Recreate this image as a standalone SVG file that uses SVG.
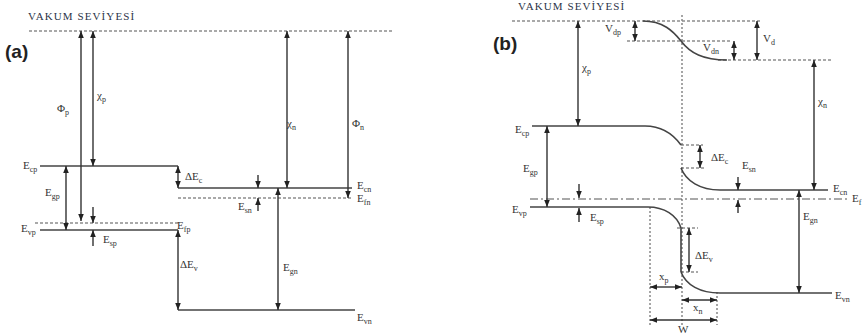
<svg xmlns="http://www.w3.org/2000/svg" width="868" height="336" viewBox="0 0 868 336">
<defs>
<marker id="ah" viewBox="0 0 10 10" refX="10" refY="5" markerWidth="7" markerHeight="7" markerUnits="userSpaceOnUse" orient="auto-start-reverse"><path d="M0,1 L10,5 L0,9 z" fill="#222"/></marker>
</defs>
<style>
.lv{stroke:#444;stroke-width:1.6;fill:none}
.dl{stroke:#555;stroke-width:1.2;stroke-dasharray:3,2;fill:none}
.dot{stroke:#888;stroke-width:1.5;stroke-dasharray:2,2;fill:none}
.dd{stroke:#555;stroke-width:1.2;stroke-dasharray:8,3,2,3;fill:none}
.ar{stroke:#333;stroke-width:1.4;fill:none}
.a2{marker-start:url(#ah);marker-end:url(#ah)}
.a1{marker-end:url(#ah)}
text{font-family:"Liberation Serif","Times New Roman",serif;font-size:11px;fill:#333}
.s{font-size:8px}
.t{font-size:11px;letter-spacing:1.1px;fill:#2c3448}
.p{font-family:"Liberation Sans",Arial,sans-serif;font-weight:bold;font-size:19px;fill:#222}
</style>
<rect width="868" height="336" fill="#fff"/>

<g id="panel-a">
<text class="p" x="5" y="58">(a)</text>
<text class="t" x="28" y="20">VAKUM SEVİYESİ</text>
<g id="levels-a">
<path class="dl" d="M29,31 H392"/>
<path class="lv" d="M40,166 H178"/>
<path class="dl" d="M35,223 H178"/>
<path class="lv" d="M40,230 H178"/>
<path class="lv" d="M178,188 H352"/>
<path class="dl" d="M178,198 H352"/>
<path class="lv" d="M178,310 H355"/>
</g>
<g id="connectors-a">
<path class="ar a2" d="M81,31 V221"/>
<path class="ar a2" d="M93,31 V166"/>
<path class="ar a2" d="M66,166 V230"/>
<path class="ar a1" d="M93,207 V223"/>
<path class="ar a1" d="M93,246 V230"/>
<path class="ar a2" d="M178,166 V188"/>
<path class="ar a1" d="M258,175 V188"/>
<path class="ar a1" d="M258,211 V198"/>
<path class="ar a2" d="M287,31 V188"/>
<path class="ar a2" d="M348,31 V198"/>
<path class="ar a2" d="M278,188 V310"/>
<path class="ar a2" d="M178,230 V310"/>
</g>
<g id="labels-a">
<text x="57" y="112">Φ<tspan class="s" dy="3">p</tspan></text>
<text x="97" y="99">χ<tspan class="s" dy="3">p</tspan></text>
<text x="23" y="169">E<tspan class="s" dy="3">cp</tspan></text>
<text x="45" y="196">E<tspan class="s" dy="3">gp</tspan></text>
<text x="21" y="232">E<tspan class="s" dy="3">vp</tspan></text>
<text x="177" y="229">E<tspan class="s" dy="3">fp</tspan></text>
<text x="103" y="243">E<tspan class="s" dy="3">sp</tspan></text>
<text x="185" y="180">ΔE<tspan class="s" dy="3">c</tspan></text>
<text x="180" y="268">ΔE<tspan class="s" dy="3">v</tspan></text>
<text x="287" y="127">χ<tspan class="s" dy="3">n</tspan></text>
<text x="352" y="127">Φ<tspan class="s" dy="3">n</tspan></text>
<text x="357" y="189">E<tspan class="s" dy="3">cn</tspan></text>
<text x="357" y="202">E<tspan class="s" dy="3">fn</tspan></text>
<text x="238" y="210">E<tspan class="s" dy="3">sn</tspan></text>
<text x="283" y="271">E<tspan class="s" dy="3">gn</tspan></text>
<text x="357" y="321">E<tspan class="s" dy="3">vn</tspan></text>
</g>
</g>

<g id="panel-b">
<text class="p" x="493" y="50">(b)</text>
<text class="t" x="518" y="10">VAKUM SEVİYESİ</text>
<g id="guides-b">
<path class="dl" d="M512,21 H762"/>
<path class="dl" d="M627,41 H732"/>
<path class="dl" d="M718,60 H832"/>
<path class="dot" d="M682,15 V325"/>
<path class="dot" d="M650,207 V325"/>
<path class="dot" d="M717,292 V325"/>
<path class="dl" d="M681,145 H703"/>
<path class="dl" d="M681,168 H705"/>
<path class="dl" d="M677,228 H698"/>
<path class="dl" d="M681,272 H698"/>
<path class="dd" d="M530,199 H850"/>
</g>
<g id="levels-b">
<path class="lv" d="M643,21 C663,21 673,31 681,41 C690,53 703,60 727,60"/>
<path class="lv" d="M532,126 H645 C661,126 673,134 681,145"/>
<path class="lv" d="M681,168 C686,181 700,190 720,190 H828"/>
<path class="lv" d="M530,207 H648 C664,207 677,215 681,228 V272"/>
<path class="lv" d="M681,272 C686,285 700,293 720,293 H832"/>
</g>
<g id="connectors-b">
<path class="ar a2" d="M635,21 V41"/>
<path class="ar a2" d="M734,41 V60"/>
<path class="ar a2" d="M757,21 V60"/>
<path class="ar a2" d="M578,21 V126"/>
<path class="ar a2" d="M814,60 V190"/>
<path class="ar a2" d="M700,145 V168"/>
<path class="ar a2" d="M547,126 V207"/>
<path class="ar a2" d="M799,190 V293"/>
<path class="ar a1" d="M579,184 V198"/>
<path class="ar a1" d="M579,222 V208"/>
<path class="ar a1" d="M738,177 V190"/>
<path class="ar a1" d="M738,213 V200"/>
<path class="ar a2" d="M689,228 V272"/>
<path class="ar a2" d="M650,287 H682"/>
<path class="ar a2" d="M682,300 H717"/>
<path class="ar a2" d="M650,320 H717"/>
</g>
<g id="labels-b">
<text x="605" y="32">V<tspan class="s" dy="3">dp</tspan></text>
<text x="703" y="51">V<tspan class="s" dy="3">dn</tspan></text>
<text x="763" y="42">V<tspan class="s" dy="3">d</tspan></text>
<text x="582" y="71">χ<tspan class="s" dy="3">p</tspan></text>
<text x="818" y="105">χ<tspan class="s" dy="3">n</tspan></text>
<text x="515" y="133">E<tspan class="s" dy="3">cp</tspan></text>
<text x="523" y="172">E<tspan class="s" dy="3">gp</tspan></text>
<text x="512" y="213">E<tspan class="s" dy="3">vp</tspan></text>
<text x="590" y="221">E<tspan class="s" dy="3">sp</tspan></text>
<text x="711" y="161">ΔE<tspan class="s" dy="3">c</tspan></text>
<text x="742" y="169">E<tspan class="s" dy="3">sn</tspan></text>
<text x="833" y="192">E<tspan class="s" dy="3">cn</tspan></text>
<text x="852" y="202">E<tspan class="s" dy="3">f</tspan></text>
<text x="803" y="220">E<tspan class="s" dy="3">gn</tspan></text>
<text x="695" y="259">ΔE<tspan class="s" dy="3">v</tspan></text>
<text x="835" y="299">E<tspan class="s" dy="3">vn</tspan></text>
<text x="659" y="280">x<tspan class="s" dy="3">p</tspan></text>
<text x="693" y="311">x<tspan class="s" dy="3">n</tspan></text>
<text x="678" y="333">W</text>
</g>
</g>
</svg>
